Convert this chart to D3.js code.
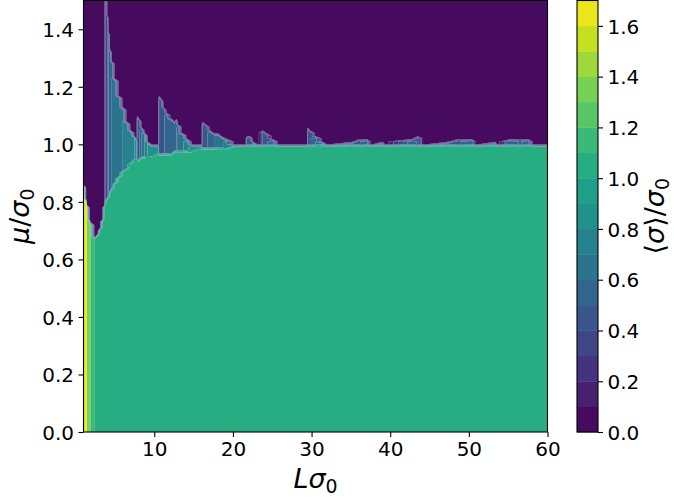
<!DOCTYPE html>
<html>
<head>
<meta charset="utf-8">
<script src="https://cdn.jsdelivr.net/npm/d3@7"></script>
<style>
  body { margin: 0; background: #fff; }
  text { font-family: "DejaVu Sans", sans-serif; fill: #000; }
</style>
</head>
<body>
<svg id="chart" width="674" height="497"></svg>
<script>
// Columns of the (L·σ0, μ/σ0) map.  For every sampled L the field is
// described by: the plateau value near μ = 0, the μ up to which that plateau
// holds, the value of the intermediate layer above it, and the μ from which
// ⟨σ⟩ collapses to ~0.
const colL = [
  1.0, 1.35, 1.45, 1.8, 1.9, 2.4, 2.5, 2.8, 3.1, 3.4, 3.65,
  3.78, 3.92, 4.05, 4.2, 4.4, 4.6, 5.0, 5.5, 6.0, 6.5, 7.0, 7.5, 7.75,
  7.85, 8.1, 8.4, 8.8, 9.2, 9.7, 10.5,
  10.62, 10.9, 11.2, 11.6, 12.2, 12.6, 12.8, 13.0, 13.6, 14.2, 14.8, 16.0,
  16.2, 16.6, 17.1, 17.6, 18.1, 18.5, 19.2, 20.2, 21.6,
  21.8, 22.2, 22.6, 23.2, 23.8, 24.3, 25.0, 25.8, 29.4,
  29.55, 29.8, 30.5, 31.4, 32.0, 35.2, 36.0, 37.0, 37.6, 39.0, 39.4,
  42.8, 43.5, 44.3, 47.3, 48.6, 50.3, 51.0, 53.3, 53.7, 55.4, 56.5, 57.5, 58.2, 60.0
];
const plateauTop = [
  0.85, 0.80, 0.785, 0.735, 0.72, 0.675, 0.67, 0.68, 0.70, 0.735, 0.78,
  0.80, 0.805, 0.81, 0.815, 0.83, 0.84, 0.862, 0.886, 0.90, 0.915, 0.93, 0.94, 0.945,
  0.945, 0.948, 0.95, 0.953, 0.955, 0.958, 0.96,
  0.96, 0.962, 0.963, 0.965, 0.968, 0.97, 0.97, 0.972, 0.975, 0.977, 0.978, 0.98,
  0.98, 0.98, 0.982, 0.983, 0.984, 0.985, 0.987, 0.99, 0.99,
  0.99, 0.99, 0.99, 0.99, 0.99, 0.99, 0.99, 0.99, 0.99,
  0.99, 0.99, 0.99, 0.99, 0.99, 0.99, 0.99, 0.99, 0.99, 0.99, 0.99,
  0.99, 0.99, 0.99, 0.99, 0.99, 0.99, 0.99, 0.99, 0.99, 0.99, 0.99, 0.99, 0.99, 0.99
];
const collapseFrom = [
  0.85, 0.80, 0.785, 0.735, 0.72, 0.675, 0.67, 0.68, 0.70, 0.735, 0.78,
  1.6, 1.6, 1.45, 1.39, 1.33, 1.29, 1.23, 1.17, 1.125, 1.08, 1.05, 1.03, 1.02,
  1.095, 1.085, 1.06, 1.035, 1.01, 0.995, 0.995,
  1.165, 1.155, 1.13, 1.11, 1.09, 1.078, 1.09, 1.07, 1.04, 1.015, 1.0, 0.995,
  1.075, 1.065, 1.05, 1.04, 1.035, 1.03, 1.02, 1.0, 0.995,
  1.03, 1.025, 1.01, 0.995, 1.045, 1.035, 1.02, 0.995, 0.995,
  1.055, 1.045, 1.03, 1.005, 0.995, 1.01, 1.02, 1.012, 0.995, 1.01, 0.995,
  1.015, 1.028, 0.995, 1.01, 1.018, 1.012, 0.995, 1.008, 0.995, 1.012, 1.018, 1.012, 0.995, 0.995
];
const plateauValue = [
  1.62, 1.62, 1.36, 1.33, 1.16, 1.15, 1.05, 1.05, 1.05, 1.05, 1.05,
  1.05, 1.05, 1.05, 1.05, 1.05, 1.05, 1.05, 1.05, 1.05, 1.05, 1.05, 1.05, 1.05,
  1.05, 1.05, 1.05, 1.05, 1.05, 1.05, 1.05,
  1.05, 1.05, 1.05, 1.05, 1.05, 1.05, 1.05, 1.05, 1.05, 1.05, 1.05, 1.05,
  1.05, 1.05, 1.05, 1.05, 1.05, 1.05, 1.05, 1.05, 1.05,
  1.05, 1.05, 1.05, 1.05, 1.05, 1.05, 1.05, 1.05, 1.05,
  1.05, 1.05, 1.05, 1.05, 1.05, 1.05, 1.05, 1.05, 1.05, 1.05, 1.05,
  1.05, 1.05, 1.05, 1.05, 1.05, 1.05, 1.05, 1.05, 1.05, 1.05, 1.05, 1.05, 1.05, 1.05
];
const layerValue = [
  0.9, 0.9, 0.9, 0.9, 0.9, 0.9, 0.9, 0.9, 0.9, 0.9, 0.9,
  0.32, 0.32, 0.42, 0.52, 0.56, 0.6, 0.64, 0.67, 0.7, 0.74, 0.77, 0.8, 0.8,
  0.42, 0.48, 0.6, 0.72, 0.82, 0.88, 0.88,
  0.42, 0.45, 0.48, 0.55, 0.58, 0.6, 0.48, 0.6, 0.68, 0.78, 0.86, 0.88,
  0.42, 0.48, 0.55, 0.6, 0.65, 0.68, 0.72, 0.85, 0.88,
  0.45, 0.48, 0.7, 0.88, 0.45, 0.48, 0.6, 0.88, 0.88,
  0.45, 0.48, 0.6, 0.8, 0.88, 0.6, 0.48, 0.6, 0.88, 0.6, 0.88,
  0.6, 0.48, 0.88, 0.6, 0.48, 0.6, 0.88, 0.6, 0.88, 0.6, 0.48, 0.6, 0.88, 0.88
];
const collapsedValue = 0.03;
const muStep = 0.01;
const muMax = 1.5;

// Contour levels and tick labels
const levels = d3.range(0, 18).map(k => +(k / 10).toFixed(1));   // 0.0 … 1.7
const xTicks = [10, 20, 30, 40, 50, 60];
const yTicks = [0.0, 0.2, 0.4, 0.6, 0.8, 1.0, 1.2, 1.4];
const cbTicks = [0.0, 0.2, 0.4, 0.6, 0.8, 1.0, 1.2, 1.4, 1.6];

const svg = d3.select("#chart");
const plot = { left: 83.5, right: 547.5, top: 0.5, bottom: 432 };
const cb = { left: 577, right: 598, top: 0.5, bottom: 432 };

const x = d3.scaleLinear().domain([1, 60]).range([plot.left, plot.right]);
const y = d3.scaleLinear().domain([0, muMax]).range([plot.bottom, plot.top]);
const bandColor = lo => d3.interpolateViridis((lo + 0.05 - levels[0]) / (levels[levels.length - 1] - levels[0]));

// Sample grid
const nx = colL.length;
const ny = Math.round(muMax / muStep) + 1;
const grid = new Float64Array(nx * ny);
for (let j = 0; j < ny; j++) {
  const mu = +(j * muStep).toFixed(3);
  for (let i = 0; i < nx; i++) {
    let v;
    if (mu <= plateauTop[i]) v = plateauValue[i];
    else if (mu < collapseFrom[i]) v = layerValue[i];
    else v = collapsedValue;
    grid[j * nx + i] = v;
  }
}

// grid space -> data space (samples sit at cell centres)
const colToL = d3.scaleLinear().domain(colL.map((_, i) => i + 0.5)).range(colL);
const rowToMu = d3.scaleLinear().domain([0.5, ny - 0.5]).range([0, muMax]);
const toScreen = d3.geoTransform({
  point(px, py) { this.stream.point(x(colToL(px)), y(rowToMu(py))); }
});
const path = d3.geoPath(toScreen);
const contourGen = d3.contours().size([nx, ny]);

svg.append("defs").append("clipPath").attr("id", "plotClip")
  .append("rect")
  .attr("x", plot.left).attr("y", 0)
  .attr("width", plot.right - plot.left).attr("height", plot.bottom);

// Each filled band lies between two consecutive levels: region >= lo minus region >= hi
const bands = svg.append("g").attr("clip-path", "url(#plotClip)");
levels.slice(0, -1).forEach((lo, k) => {
  const hi = levels[k + 1];
  const outer = path(contourGen.contour(grid, lo)) || "";
  const inner = path(contourGen.contour(grid, hi)) || "";
  bands.append("path")
    .attr("d", outer + inner)
    .attr("fill-rule", "evenodd")
    .attr("fill", bandColor(lo));
});

// Axes
const fs = 20;
const xAxis = svg.append("g").attr("transform", `translate(0,${plot.bottom})`)
  .call(d3.axisBottom(x).tickValues(xTicks).tickFormat(d3.format("d")).tickSize(5).tickPadding(4));
const yAxis = svg.append("g").attr("transform", `translate(${plot.left},0)`)
  .call(d3.axisLeft(y).tickValues(yTicks).tickFormat(d3.format(".1f")).tickSize(5).tickPadding(4.5));
[xAxis, yAxis].forEach(g => {
  g.select(".domain").remove();
  g.selectAll(".tick line").attr("stroke", "#000").attr("stroke-width", 1.1);
  g.selectAll(".tick text").attr("font-size", fs).attr("font-family", "DejaVu Sans");
});
xAxis.selectAll(".tick text").attr("dy", "0.76em");
yAxis.selectAll(".tick text").attr("dy", "0.36em");

svg.append("rect")
  .attr("x", plot.left).attr("y", plot.top)
  .attr("width", plot.right - plot.left).attr("height", plot.bottom - plot.top)
  .attr("fill", "none").attr("stroke", "#000").attr("stroke-width", 1.1);

// Colour bar
const cbScale = d3.scaleLinear().domain([levels[0], levels[levels.length - 1]]).range([cb.bottom, cb.top]);
svg.append("g").selectAll("rect")
  .data(levels.slice(0, -1))
  .join("rect")
  .attr("x", cb.left)
  .attr("width", cb.right - cb.left)
  .attr("y", d => cbScale(d + 0.1))
  .attr("height", d => cbScale(d) - cbScale(d + 0.1) + 0.4)
  .attr("fill", d => bandColor(d));
svg.append("rect")
  .attr("x", cb.left).attr("y", cb.top)
  .attr("width", cb.right - cb.left).attr("height", cb.bottom - cb.top)
  .attr("fill", "none").attr("stroke", "#000").attr("stroke-width", 1.1);
const cbAxis = svg.append("g").attr("transform", `translate(${cb.right},0)`)
  .call(d3.axisRight(cbScale).tickValues(cbTicks).tickFormat(d3.format(".1f")).tickSize(5).tickPadding(4.5));
cbAxis.select(".domain").remove();
cbAxis.selectAll(".tick line").attr("stroke", "#000").attr("stroke-width", 1.1);
cbAxis.selectAll(".tick text").attr("font-size", fs).attr("font-family", "DejaVu Sans").attr("dy", "0.36em");

// Axis labels (math-style)
const lfs = 27;
function mathLabel(sel, parts) {
  parts.forEach(p => {
    const t = sel.append("tspan").text(p.t);
    if (p.it) t.attr("font-style", "italic");
    if (p.sub) t.attr("font-size", lfs * 0.7).attr("dy", lfs * 0.2);
  });
}
const xl = svg.append("text")
  .attr("x", (plot.left + plot.right) / 2).attr("y", 488)
  .attr("text-anchor", "middle").attr("font-size", lfs);
mathLabel(xl, [{ t: "L", it: true }, { t: "σ", it: true }, { t: "0", sub: true }]);

const yl = svg.append("text")
  .attr("transform", `translate(29,${(plot.top + plot.bottom) / 2}) rotate(-90)`)
  .attr("text-anchor", "middle").attr("font-size", lfs);
mathLabel(yl, [{ t: "μ", it: true }, { t: "/" }, { t: "σ", it: true }, { t: "0", sub: true }]);

const cl = svg.append("text")
  .attr("transform", `translate(664,${(cb.top + cb.bottom) / 2}) rotate(-90)`)
  .attr("text-anchor", "middle").attr("font-size", lfs);
mathLabel(cl, [{ t: "⟨" }, { t: "σ", it: true }, { t: "⟩" }, { t: "/" }, { t: "σ", it: true }, { t: "0", sub: true }]);
</script>
</body>
</html>
